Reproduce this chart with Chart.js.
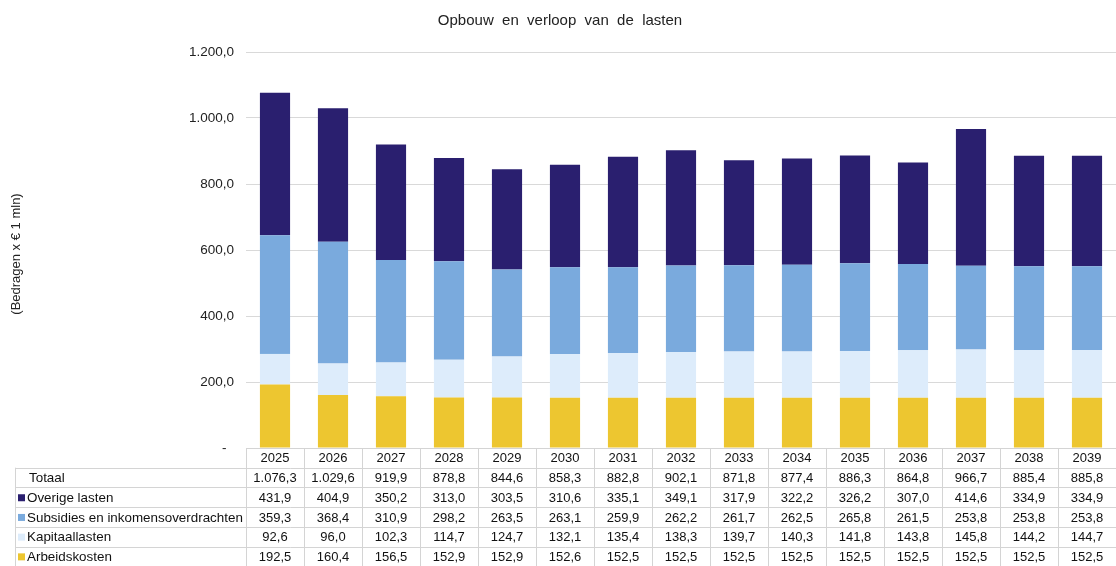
<!DOCTYPE html>
<html>
<head>
<meta charset="utf-8">
<script src="https://cdn.jsdelivr.net/npm/chart.js@4/dist/chart.umd.min.js"></script>
<style>
  html, body { margin: 0; padding: 0; background: #fff; }
  #wrap { width: 1116px; height: 566px; position: relative; }
</style>
</head>
<body>
<div id="wrap"><canvas id="chart"></canvas></div>
<script>
const years = ["2025", "2026", "2027", "2028", "2029", "2030", "2031", "2032", "2033", "2034", "2035", "2036", "2037", "2038", "2039"];
const totaal = [1076.3, 1029.6, 919.9, 878.8, 844.6, 858.3, 882.8, 902.1, 871.8, 877.4, 886.3, 864.8, 966.7, 885.4, 885.8];
const overigeLasten = [431.9, 404.9, 350.2, 313.0, 303.5, 310.6, 335.1, 349.1, 317.9, 322.2, 326.2, 307.0, 414.6, 334.9, 334.9];
const subsidies = [359.3, 368.4, 310.9, 298.2, 263.5, 263.1, 259.9, 262.2, 261.7, 262.5, 265.8, 261.5, 253.8, 253.8, 253.8];
const kapitaallasten = [92.6, 96.0, 102.3, 114.7, 124.7, 132.1, 135.4, 138.3, 139.7, 140.3, 141.8, 143.8, 145.8, 144.2, 144.7];
const arbeidskosten = [192.5, 160.4, 156.5, 152.9, 152.9, 152.6, 152.5, 152.5, 152.5, 152.5, 152.5, 152.5, 152.5, 152.5, 152.5];

const colors = {
  overige: "#2a1f6f",
  subsidies: "#7aaadd",
  kapitaal: "#ddecfb",
  arbeid: "#edc630",
};

// 1.076,3 style
function fmt(v) {
  const parts = v.toFixed(1).split(".");
  parts[0] = parts[0].replace(/\B(?=(\d{3})+(?!\d))/g, ".");
  return parts[0] + "," + parts[1];
}

const FONT = "Liberation Sans, Arial, sans-serif";

const tableRows = [
  { label: "Totaal", values: totaal, color: null },
  { label: "Overige lasten", values: overigeLasten, color: colors.overige },
  { label: "Subsidies en inkomensoverdrachten", values: subsidies, color: colors.subsidies },
  { label: "Kapitaallasten", values: kapitaallasten, color: colors.kapitaal },
  { label: "Arbeidskosten", values: arbeidskosten, color: colors.arbeid },
];

const tablePlugin = {
  id: "dataTable",
  afterDraw(chart) {
    const ctx = chart.ctx;
    const x = chart.scales.x;
    const area = chart.chartArea;
    const top = area.bottom;
    const rowH = 19.7;
    const half = (x.getPixelForValue(1) - x.getPixelForValue(0)) / 2;
    const left = 15;
    const right = chart.width;
    ctx.save();

    // title
    ctx.fillStyle = "#222";
    ctx.font = "15px " + FONT;
    ctx.textAlign = "center";
    ctx.textBaseline = "middle";
    ctx.fillText("Opbouw  en  verloop  van  de  lasten", 560, 21);

    // y axis label
    ctx.save();
    ctx.translate(16, 254);
    ctx.rotate(-Math.PI / 2);
    ctx.font = "13px " + FONT;
    ctx.fillStyle = "#222";
    ctx.fillText("(Bedragen x € 1 mln)", 0, 0);
    ctx.restore();

    // grid lines
    ctx.strokeStyle = "#d4d4d4";
    ctx.lineWidth = 1;
    ctx.beginPath();
    const x0 = x.getPixelForValue(0) - half;
    ctx.moveTo(x0, Math.round(top) + 0.5);
    ctx.lineTo(right, Math.round(top) + 0.5);
    for (let r = 1; r <= tableRows.length; r++) {
      const yy = Math.round(top + r * rowH) + 0.5;
      ctx.moveTo(left, yy);
      ctx.lineTo(right, yy);
    }
    const bottom = top + (tableRows.length + 1) * rowH;
    years.forEach((y, i) => {
      const xx = Math.round(x.getPixelForValue(i) - half) + 0.5;
      ctx.moveTo(xx, top);
      ctx.lineTo(xx, bottom);
    });
    ctx.moveTo(left + 0.5, top + rowH);
    ctx.lineTo(left + 0.5, bottom);
    ctx.stroke();

    // header
    ctx.font = "13px " + FONT;
    ctx.fillStyle = "#111";
    ctx.textAlign = "center";
    years.forEach((y, i) => {
      ctx.fillText(y, x.getPixelForValue(i), top + rowH / 2 + 1);
    });

    // rows
    tableRows.forEach((row, r) => {
      const cy = top + (r + 1) * rowH + rowH / 2 + 1;
      if (row.color) {
        ctx.fillStyle = row.color;
        ctx.fillRect(18, cy - 4, 7, 7);
      }
      ctx.fillStyle = "#111";
      ctx.textAlign = "left";
      ctx.font = "13.4px " + FONT;
      ctx.fillText(row.label, row.color ? 27 : 29, cy);
      ctx.font = "13px " + FONT;
      ctx.textAlign = "center";
      row.values.forEach((v, i) => {
        ctx.fillText(fmt(v), x.getPixelForValue(i), cy);
      });
    });
    ctx.restore();
  },
};

new Chart(document.getElementById("chart"), {
  type: "bar",
  data: {
    labels: years,
    datasets: [
      { label: "Arbeidskosten", data: arbeidskosten, backgroundColor: colors.arbeid },
      { label: "Kapitaallasten", data: kapitaallasten, backgroundColor: colors.kapitaal },
      { label: "Subsidies en inkomensoverdrachten", data: subsidies, backgroundColor: colors.subsidies },
      { label: "Overige lasten", data: overigeLasten, backgroundColor: colors.overige },
    ],
  },
  options: {
    responsive: true,
    maintainAspectRatio: false,
    animation: false,
    layout: { padding: { top: 52, bottom: 118, left: 0, right: 0 } },
    datasets: { bar: { barPercentage: 0.52, categoryPercentage: 1.0 } },
    plugins: {
      legend: { display: false },
      tooltip: { enabled: false },
      title: { display: false },
    },
    scales: {
      x: {
        stacked: true,
        display: false,
      },
      y: {
        stacked: true,
        min: 0,
        max: 1200,
        afterFit(scale) { scale.width = 246; },
        border: { display: false },
        grid: { color: "#d9d9d9", drawTicks: false },
        ticks: {
          stepSize: 200,
          padding: 12,
          color: "#222",
          font: { family: FONT, size: 13.5 },
          callback: (v) => (v === 0 ? "-  " : fmt(v)),
        },
      },
    },
  },
  plugins: [tablePlugin],
});
</script>
</body>
</html>
